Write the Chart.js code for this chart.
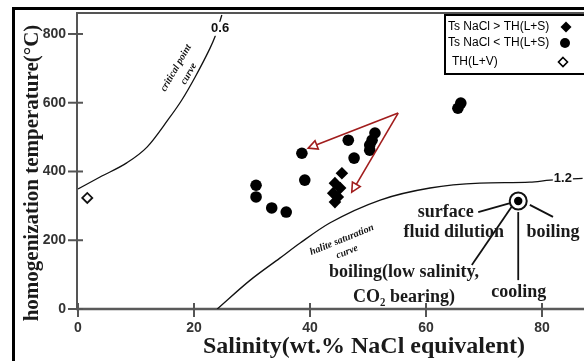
<!DOCTYPE html>
<html><head><meta charset="utf-8">
<script src="https://cdn.jsdelivr.net/npm/chart.js@4/dist/chart.umd.min.js"></script>
<style>
html,body{margin:0;padding:0;background:#fff;overflow:hidden}
#wrap{position:relative;width:584px;height:361px;overflow:hidden}
#frame{position:absolute;left:12px;top:7px;width:600px;height:400px;border-left:3px solid #000;border-top:3px solid #000;pointer-events:none}
canvas{position:absolute;left:0;top:0}
</style></head><body>
<div id="wrap"><canvas id="c" width="584" height="361"></canvas><div id="frame"></div></div>
<script>
// ---- data ----
const tsGreaterSalinity = [45.5, 44.3, 45.2, 44.0, 44.8, 44.3];
const tsGreaterTemp     = [395, 366, 352, 337, 326, 311];
const tsLessSalinity = [30.7, 30.7, 33.4, 35.9, 38.6, 39.1, 46.6, 47.6, 51.2, 50.7, 50.3, 50.3, 65.5, 66.0];
const tsLessTemp     = [360, 326, 294, 282, 453, 375, 491, 439, 512, 491, 477, 462, 584, 599];
const thLVSalinity = [1.6];
const thLVTemp     = [323];
const criticalCurveSalinity = [0, 3.8, 8.4, 11.9, 15.5, 17.9, 20.2, 22.6, 23.6, 24.8];
const criticalCurveTemp     = [349, 384, 425, 471, 550, 608, 675, 753, 791, 855];
const haliteCurveSalinity = [24, 29.7, 34.8, 38.3, 43.4, 52.1, 60.7, 69.3, 77.9, 81.4, 87];
const haliteCurveTemp     = [0, 84, 148, 192, 250, 317, 352, 366, 369, 375, 380];
const xTickValues = [0, 20, 40, 60, 80];
const yTickValues = [0, 200, 400, 600, 800];
const seriesLabels = ['Ts NaCl > TH(L+S)', 'Ts NaCl < TH(L+S)', 'TH(L+V)'];
const xTitle = 'Salinity(wt.% NaCl equivalent)';
const yTitle = 'homogenization temperature(°C)';

// ---- annotation layout (data coordinates) ----
const arrowApex = [55.2, 570];
const arrowTips = [[39.7, 468], [47.2, 340]];
const ringCenter = [75.9, 314];
const ringLines = [
  [[69.0, 282], [74.5, 308]],
  [[67.9, 128], [75.0, 303]],
  [[75.9, 282], [75.9, 84]],
  [[77.9, 303], [81.9, 268]]
];
const bigNotes = [
  ['surface', 63.4, 282], ['fluid dilution', 64.8, 224], ['boiling', 81.9, 224],
  ['boiling(low salinity,', 56.2, 108], ['CO\u2082 bearing)', 56.2, 35], ['cooling', 76.0, 49]
];
const smallNotes = [
  ['critical point', 16.9, 701, -60], ['curve', 19.1, 684, -60],
  ['halite saturation', 45.5, 201, -22], ['curve', 46.4, 166, -22]
];
const curveLabels = [['0.6', 24.5, 815], ['1.2', 83.6, 381]];

const toXY = (xs, ys) => xs.map((x, i) => ({x, y: ys[i]}));

const drawPlugin = {
  id: 'deco',
  beforeDatasetsDraw(chart) {
    const {ctx, chartArea: a, scales: {x, y}} = chart;
    ctx.save();
    ctx.strokeStyle = '#555'; ctx.lineWidth = 2;
    ctx.beginPath();
    ctx.moveTo(a.left - 1, y.getPixelForValue(0)); ctx.lineTo(a.left - 1, a.top); ctx.lineTo(a.right + 5, a.top);
    ctx.stroke();
    ctx.lineWidth = 2.5; ctx.strokeStyle = '#5a5a5a';
    ctx.beginPath();
    ctx.moveTo(a.left - 2, y.getPixelForValue(0)); ctx.lineTo(a.right + 5, y.getPixelForValue(0));
    ctx.stroke();
    ctx.lineWidth = 2; ctx.strokeStyle = '#555';
    yTickValues.forEach(v => { const py = y.getPixelForValue(v); ctx.beginPath(); ctx.moveTo(a.left - 10, py); ctx.lineTo(a.left + 5, py); ctx.stroke(); });
    xTickValues.forEach(v => { const px = x.getPixelForValue(v); const py = y.getPixelForValue(0); ctx.beginPath(); ctx.moveTo(px, py - 6); ctx.lineTo(px, py + 8); ctx.stroke(); });
    ctx.restore();
  },
  afterDatasetsDraw(chart) {
    const {ctx, chartArea: a, scales: {x, y}} = chart;
    const P = (p) => [x.getPixelForValue(p[0]), y.getPixelForValue(p[1])];
    ctx.save();
    ctx.font = 'bold 13px "Liberation Sans", Arial, sans-serif';
    ctx.textAlign = 'center'; ctx.textBaseline = 'middle';
    curveLabels.forEach(([t, vx, vy]) => {
      const px = x.getPixelForValue(vx), py = y.getPixelForValue(vy);
      const w = ctx.measureText(t).width;
      ctx.fillStyle = '#fff'; ctx.fillRect(px - w / 2 - 1, py - 7, w + 2, 14);
      ctx.fillStyle = '#111'; ctx.fillText(t, px, py);
    });
    ctx.font = 'italic bold 10px "Liberation Serif", "Times New Roman", serif';
    ctx.fillStyle = '#111';
    smallNotes.forEach(([t, vx, vy, ang]) => {
      ctx.save();
      ctx.translate(x.getPixelForValue(vx), y.getPixelForValue(vy));
      ctx.rotate(ang * Math.PI / 180);
      ctx.fillText(t, 0, 0);
      ctx.restore();
    });
    ctx.strokeStyle = '#a11d1d'; ctx.lineWidth = 1.6;
    const ap = P(arrowApex);
    arrowTips.forEach(tp => {
      const t = P(tp);
      const ang = Math.atan2(t[1] - ap[1], t[0] - ap[0]);
      const hl = 9, hw = 4.5;
      const bx = t[0] - hl * Math.cos(ang), by = t[1] - hl * Math.sin(ang);
      ctx.beginPath(); ctx.moveTo(ap[0], ap[1]); ctx.lineTo(bx, by); ctx.stroke();
      ctx.beginPath();
      ctx.moveTo(t[0], t[1]);
      ctx.lineTo(bx + hw * Math.sin(ang), by - hw * Math.cos(ang));
      ctx.lineTo(bx - hw * Math.sin(ang), by + hw * Math.cos(ang));
      ctx.closePath();
      ctx.fillStyle = '#fff'; ctx.fill(); ctx.stroke();
    });
    const rc = P(ringCenter);
    ctx.strokeStyle = '#111'; ctx.lineWidth = 1.8;
    ringLines.forEach(([p1, p2]) => { const a1 = P(p1), a2 = P(p2); ctx.beginPath(); ctx.moveTo(a1[0], a1[1]); ctx.lineTo(a2[0], a2[1]); ctx.stroke(); });
    ctx.lineWidth = 2;
    ctx.beginPath(); ctx.arc(rc[0], rc[1], 8.5, 0, Math.PI * 2); ctx.fillStyle = '#fff'; ctx.fill(); ctx.stroke();
    ctx.beginPath(); ctx.arc(rc[0], rc[1], 4.2, 0, Math.PI * 2); ctx.fillStyle = '#000'; ctx.fill();
    ctx.font = 'bold 18px "Liberation Serif", "Times New Roman", serif';
    ctx.fillStyle = '#1a1a1a';
    bigNotes.forEach(([t, vx, vy]) => ctx.fillText(t, x.getPixelForValue(vx), y.getPixelForValue(vy)));
    ctx.font = 'bold 24px "Liberation Serif", "Times New Roman", serif';
    ctx.fillStyle = '#1a1a1a';
    ctx.fillText(xTitle, 364, 347);
    ctx.save();
    ctx.translate(33, 173); ctx.rotate(-Math.PI / 2);
    ctx.font = 'bold 21px "Liberation Serif", "Times New Roman", serif';
    ctx.fillText(yTitle, 0, 0);
    ctx.restore();
    // legend
    const lx = a.right - 139, ly = a.top + 2;
    ctx.strokeStyle = '#000'; ctx.lineWidth = 2;
    ctx.fillStyle = '#fff';
    ctx.fillRect(lx, ly, 150, 59);
    ctx.strokeRect(lx, ly, 150, 59);
    ctx.font = '12px "Liberation Sans", Arial, sans-serif';
    ctx.fillStyle = '#000'; ctx.textAlign = 'left';
    const rows = [12, 28, 47];
    seriesLabels.forEach((t, i) => ctx.fillText(t, lx + (i === 2 ? 7 : 3), ly + rows[i]));
    const mk = (cx, cy, r, filled) => {
      ctx.beginPath(); ctx.moveTo(cx, cy - r); ctx.lineTo(cx + r, cy); ctx.lineTo(cx, cy + r); ctx.lineTo(cx - r, cy); ctx.closePath();
      if (filled) { ctx.fillStyle = '#000'; ctx.fill(); } else { ctx.fillStyle = '#fff'; ctx.fill(); ctx.lineWidth = 1.6; ctx.stroke(); }
    };
    mk(lx + 121, ly + rows[0], 5.5, true);
    ctx.beginPath(); ctx.arc(lx + 120, ly + rows[1], 5, 0, Math.PI * 2); ctx.fillStyle = '#000'; ctx.fill();
    mk(lx + 118, ly + rows[2], 4.5, false);
    ctx.restore();
  }
};

new Chart(document.getElementById('c'), {
  type: 'scatter',
  data: {
    datasets: [
      {label: seriesLabels[0], data: toXY(tsGreaterSalinity, tsGreaterTemp), pointStyle: 'rectRot', pointRadius: 6.3, backgroundColor: '#000', borderColor: '#000', borderWidth: 0},
      {label: seriesLabels[1], data: toXY(tsLessSalinity, tsLessTemp), pointStyle: 'circle', pointRadius: 5.8, backgroundColor: '#000', borderColor: '#000', borderWidth: 0},
      {label: seriesLabels[2], data: toXY(thLVSalinity, thLVTemp), pointStyle: 'rectRot', pointRadius: 5, backgroundColor: '#fff', borderColor: '#111', borderWidth: 1.8},
      {label: 'critical point curve', type: 'line', data: toXY(criticalCurveSalinity, criticalCurveTemp), showLine: true, pointRadius: 0, borderColor: '#111', borderWidth: 1.3, cubicInterpolationMode: 'monotone', fill: false},
      {label: 'halite saturation curve', type: 'line', data: toXY(haliteCurveSalinity, haliteCurveTemp), showLine: true, pointRadius: 0, borderColor: '#111', borderWidth: 1.3, cubicInterpolationMode: 'monotone', fill: false}
    ]
  },
  options: {
    responsive: false, animation: false, devicePixelRatio: 1,
    layout: {autoPadding: false, padding: {left: 0, right: 0, top: 13, bottom: 0}},
    plugins: {legend: {display: false}, tooltip: {enabled: false}},
    scales: {
      x: {
        type: 'linear', min: 0, max: 87.24,
        afterFit: s => { s.height = 52; s.paddingLeft = 0; s.paddingRight = 0; },
        afterBuildTicks: s => { s.ticks = xTickValues.map(v => ({value: v})); },
        grid: {display: false, drawTicks: false}, border: {display: false},
        ticks: {padding: 11, color: '#333', font: {family: '"Liberation Sans", Arial, sans-serif', size: 14, weight: 'bold'}}
      },
      y: {
        type: 'linear', min: 0, max: 861,
        afterFit: s => { s.width = 78; s.paddingTop = 0; s.paddingBottom = 0; },
        afterBuildTicks: s => { s.ticks = yTickValues.map(v => ({value: v})); },
        grid: {display: false, drawTicks: false}, border: {display: false},
        ticks: {padding: 12, color: '#333', font: {family: '"Liberation Sans", Arial, sans-serif', size: 14, weight: 'bold'}}
      }
    }
  },
  plugins: [drawPlugin]
});
</script>
</body></html>
